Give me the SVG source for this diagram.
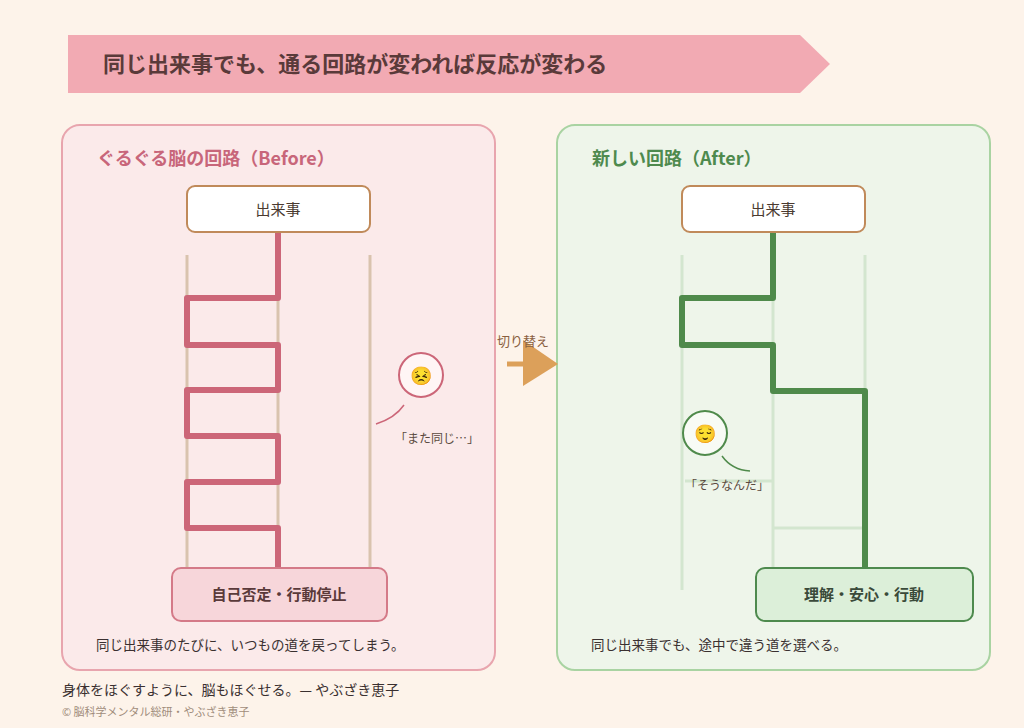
<svg xmlns="http://www.w3.org/2000/svg" width="1024" height="728" viewBox="0 0 1024 728">
<style>
text{font-family:"Noto Sans CJK JP","Noto Sans",sans-serif;}
.b{font-weight:bold}
.rail{stroke-width:3;fill:none}
</style>
<rect width="1024" height="728" fill="#fdf3ea"/>
<g id="title">
<polygon points="68,35 800,35 830,64 800,93 68,93" fill="#f2aab3"/>
<text x="103" y="72" font-size="22" class="b" fill="#5a3a3a">同じ出来事でも、通る回路が変われば反応が変わる</text>
</g>
<g id="before">
<rect x="62" y="125" width="433" height="545" rx="18" fill="#fbeaea" stroke="#e8a5ae" stroke-width="2"/>
<text x="97" y="165" font-size="18" class="b" fill="#c8667a">ぐるぐる脳の回路（Before）</text>
<g stroke="#d9c3ae" class="rail"><line x1="187" y1="255" x2="187" y2="570"/><line x1="278" y1="255" x2="278" y2="570"/><line x1="370" y1="255" x2="370" y2="570"/></g>
</g>
<g id="after">
<rect x="557" y="125" width="433" height="545" rx="18" fill="#eef5ea" stroke="#a9d3a2" stroke-width="2"/>
<text x="592" y="165" font-size="18" class="b" fill="#4e8a4e">新しい回路（After）</text>
<g stroke="#d3e6cf" class="rail"><line x1="682" y1="255" x2="682" y2="590"/><line x1="773" y1="255" x2="773" y2="590"/><line x1="865" y1="255" x2="865" y2="590"/><line x1="773" y1="528" x2="865" y2="528"/><line x1="685" y1="481" x2="773" y2="481"/></g>
</g>
<g id="connectors">
<polyline points="278,232 278,298 187,298 187,345 278,345 278,390 187,390 187,436 278,436 278,482 187,482 187,528 278,528 278,570" fill="none" stroke="#cc6678" stroke-width="6" stroke-linejoin="round"/>
<polyline points="773,232 773,298 682,298 682,345 773,345 773,391 865,391 865,568" fill="none" stroke="#4f8a4b" stroke-width="6" stroke-linejoin="round"/>
<path d="M376,424 Q395,418 404,405" fill="none" stroke="#cc6678" stroke-width="1.5"/>
<path d="M722,456 Q732,470 750,471" fill="none" stroke="#4f8a4b" stroke-width="1.5"/>
<line x1="507" y1="364" x2="530" y2="364" stroke="#dca05a" stroke-width="5"/>
<polygon points="523,340 558,364 523,386" fill="#dca05a"/>
<text x="497" y="346" font-size="13" fill="#8a6040">切り替え</text>
</g>
<g id="event-before">
<rect x="187" y="186" width="183" height="46" rx="8" fill="#fff" stroke="#c08a5a" stroke-width="2"/>
<text x="278" y="215" font-size="15" text-anchor="middle" fill="#4a3a30">出来事</text>
</g>
<g id="event-after">
<rect x="682" y="186" width="183" height="46" rx="8" fill="#fff" stroke="#c08a5a" stroke-width="2"/>
<text x="773" y="215" font-size="15" text-anchor="middle" fill="#4a3a30">出来事</text>
</g>
<g id="result-before">
<rect x="172" y="568" width="215" height="53" rx="9" fill="#f7d6da" stroke="#d47a88" stroke-width="2"/>
<text x="279" y="600" font-size="15" class="b" text-anchor="middle" fill="#5a3a3a">自己否定・行動停止</text>
</g>
<g id="result-after">
<rect x="756" y="568" width="217" height="53" rx="9" fill="#dcefd9" stroke="#4e8a4e" stroke-width="2"/>
<text x="864" y="600" font-size="15" class="b" text-anchor="middle" fill="#3a4a3a">理解・安心・行動</text>
</g>
<g id="face-before">
<circle cx="421" cy="375" r="22" fill="#fff5f5" stroke="#cc6678" stroke-width="2"/>
<text x="421" y="382" font-size="18" text-anchor="middle">😣</text>
<text x="395" y="443" font-size="12" fill="#5a4a40">「また同じ…」</text>
</g>
<g id="face-after">
<circle cx="705" cy="433" r="22" fill="#f8fbf5" stroke="#4f8a4b" stroke-width="2"/>
<text x="705" y="440" font-size="18" text-anchor="middle">😌</text>
<text x="685" y="490" font-size="12" fill="#5a4a40">「そうなんだ」</text>
</g>
<text x="96" y="650" font-size="13.5" fill="#3a3030">同じ出来事のたびに、いつもの道を戻ってしまう。</text>
<text x="591" y="650" font-size="13.5" fill="#3a3030">同じ出来事でも、途中で違う道を選べる。</text>
<text x="62" y="695" font-size="14" fill="#3a3030">身体をほぐすように、脳もほぐせる。— やぶざき恵子</text>
<text x="62" y="716" font-size="11" fill="#a08c7a">© 脳科学メンタル総研・やぶざき恵子</text>
</svg>
